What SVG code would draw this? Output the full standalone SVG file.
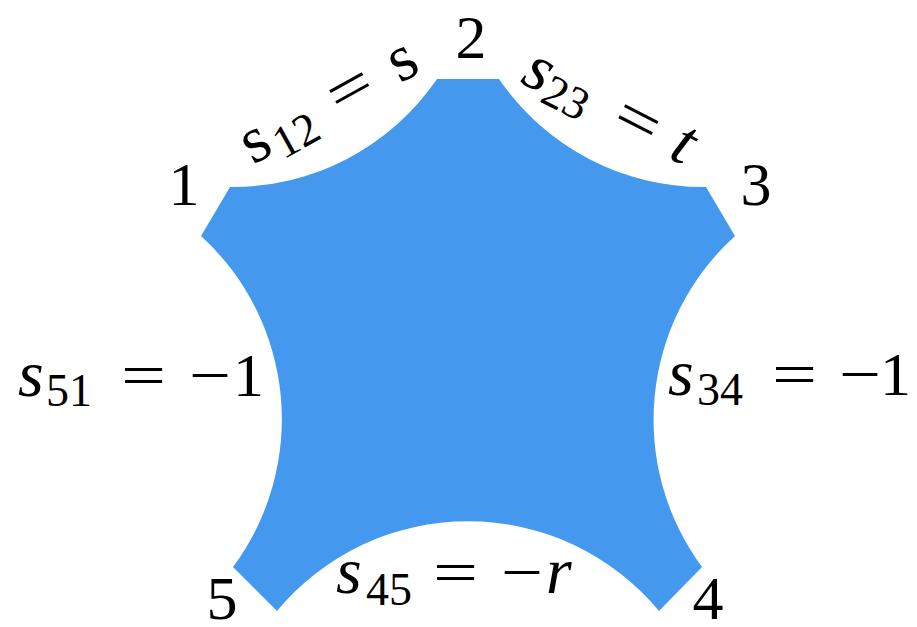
<svg xmlns="http://www.w3.org/2000/svg" width="917" height="627" viewBox="0 0 917 627">
<style>
  text{fill:#000;font-family:"Liberation Serif","Times New Roman",serif;}
  .n{font-size:62px;}
  .v{font-size:66px;font-style:italic;}
  .r{font-size:66px;}
  .sub{font-size:46px;}
  .op{font-size:62px;}
  .num{font-size:62px;text-anchor:middle;}
</style>
<rect width="917" height="627" fill="#ffffff"/>
<g id="shape">
  <path d="M 437,79 L 499,79 A 248 248 0 0 0 706,187 L 735,236 A 248 248 0 0 0 702,567 L 659,611 A 248 248 0 0 0 277,611 L 233,567 A 248 248 0 0 0 201,236 L 230,187 A 248 248 0 0 0 437,79 Z" fill="#4499ee"/>
</g>
<g id="connectors"></g>
<g id="corner1"><text class="num" x="184" y="205">1</text></g>
<g id="corner2"><text class="num" x="471" y="58">2</text></g>
<g id="corner3"><text class="num" x="756" y="205">3</text></g>
<g id="corner4"><text class="num" x="708" y="619">4</text></g>
<g id="corner5"><text class="num" x="222" y="619">5</text></g>
<g id="label12" transform="translate(253,165) rotate(-29)">
  <text class="r" x="0" y="0">s</text>
  <text class="sub" x="29" y="10">12</text>
  <text class="op" x="99" y="0" textLength="45" lengthAdjust="spacingAndGlyphs">=</text>
  <text class="r" x="168" y="0">s</text>
</g>
<g id="label23" transform="translate(519,82) rotate(27)">
  <text class="v" x="0" y="0">s</text>
  <text class="sub" x="26" y="8">23</text>
  <text class="op" x="101" y="0" textLength="45" lengthAdjust="spacingAndGlyphs">=</text>
  <text class="v" x="166" y="0">t</text>
</g>
<g id="label51">
  <text class="v" x="18" y="396">s</text>
  <text class="sub" x="46" y="406">51</text>
  <text class="op" x="121" y="396" textLength="45" lengthAdjust="spacingAndGlyphs">=</text>
  <text class="op" x="189" y="396" textLength="42" lengthAdjust="spacingAndGlyphs">−</text>
  <text class="n" x="233" y="396">1</text>
</g>
<g id="label34">
  <text class="v" x="668" y="395">s</text>
  <text class="sub" x="697" y="405">34</text>
  <text class="op" x="772" y="395" textLength="45" lengthAdjust="spacingAndGlyphs">=</text>
  <text class="op" x="839" y="395" textLength="42" lengthAdjust="spacingAndGlyphs">−</text>
  <text class="n" x="880" y="395">1</text>
</g>
<g id="label45">
  <text class="v" x="336" y="593">s</text>
  <text class="sub" x="366" y="605">45</text>
  <text class="op" x="433" y="593" textLength="45" lengthAdjust="spacingAndGlyphs">=</text>
  <text class="op" x="501" y="593" textLength="42" lengthAdjust="spacingAndGlyphs">−</text>
  <text class="v" x="546" y="593">r</text>
</g>
</svg>
